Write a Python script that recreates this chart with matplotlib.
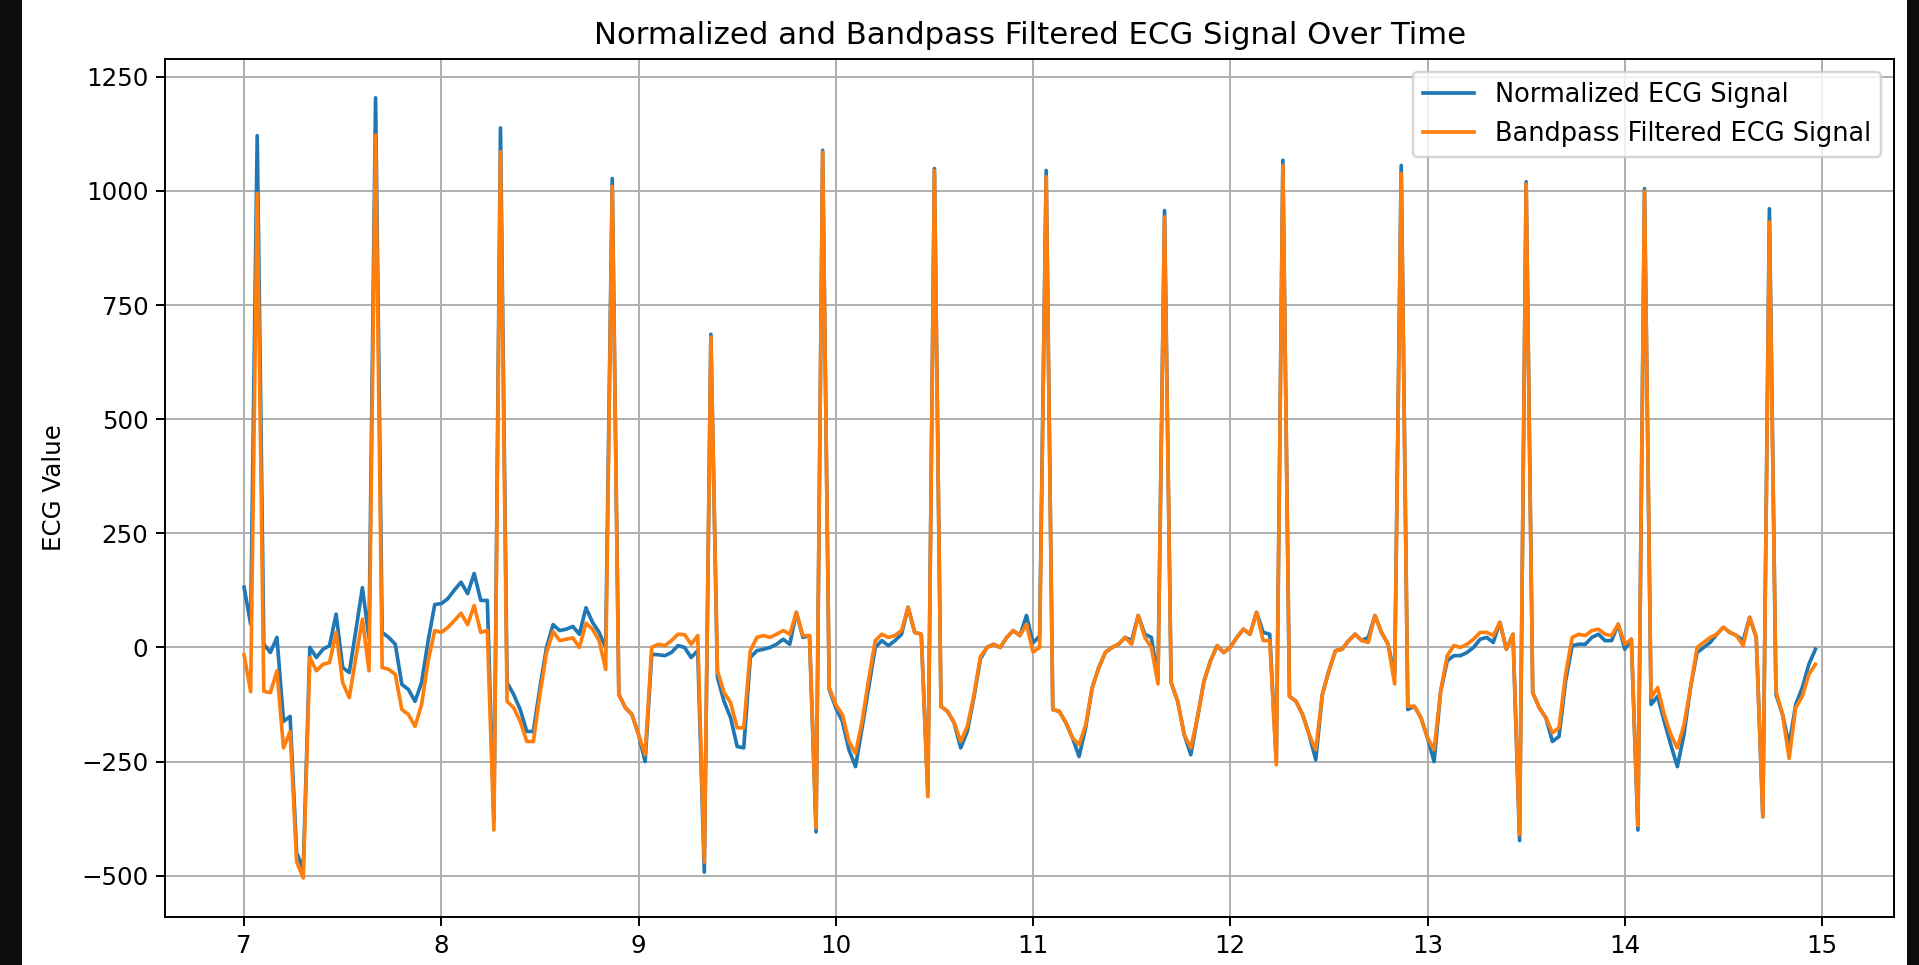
import matplotlib
matplotlib.use("Agg")
import matplotlib.pyplot as plt
import numpy as np
from matplotlib.patches import Rectangle

# sampling of the shown window
fs = 30
t_start = 7.0

normalized = [
    132, 51, 1121, 7, -11, 22, -162, -151, -450, -485,
    0, -22, -4, 4, 73, -44, -55, 37, 131, 20,
    1204, 33, 22, 7, -81, -92, -118, -77, 15, 94,
    96, 107, 126, 143, 118, 162, 103, 103, -380, 1138,
    -77, -103, -136, -184, -184, -88, 0, 50, 37, 40,
    46, 29, 87, 55, 33, 0, 1027, -103, -132, -147,
    -191, -250, -15, -16, -18, -11, 4, 0, -22, -7,
    -492, 686, -66, -118, -154, -217, -220, -22, -7, -4,
    0, 7, 18, 7, 77, 22, 26, -404, 1089, -92,
    -132, -162, -224, -261, -176, -88, 0, 15, 4, 15,
    29, 88, 33, 29, -320, 1049, -129, -140, -165, -220,
    -184, -110, -25, 0, 7, 0, 22, 37, 26, 70,
    10, 25, 1045, -136, -140, -165, -198, -239, -176, -88,
    -44, -11, 0, 7, 22, 15, 70, 29, 22, -70,
    957, -77, -118, -191, -235, -154, -74, -29, 4, -11,
    0, 22, 40, 29, 77, 33, 29, -250, 1067, -107,
    -118, -147, -191, -246, -103, -51, -7, -4, 15, 29,
    15, 22, 70, 33, 7, -60, 1056, -136, -129, -154,
    -198, -250, -96, -29, -18, -18, -11, 0, 18, 22,
    11, 55, -4, 29, -423, 1020, -99, -132, -154, -206,
    -195, -74, 4, 7, 7, 22, 29, 15, 15, 51,
    -4, 18, -400, 1005, -125, -107, -162, -213, -261, -191,
    -88, -11, 0, 11, 29, 44, 33, 26, 15, 66,
    22, -371, 961, -103, -147, -213, -125, -88, -37, -4,
]

filtered = [
    -16, -97, 994, -96, -99, -51, -220, -184, -470, -505,
    -22, -51, -37, -33, 33, -77, -110, -22, 62, -51,
    1122, -44, -48, -59, -136, -147, -173, -125, -29, 37,
    33, 44, 59, 75, 50, 92, 33, 37, -400, 1086,
    -118, -132, -162, -206, -206, -103, -11, 35, 15, 18,
    21, 0, 53, 40, 15, -48, 1010, -103, -132, -147,
    -191, -235, 0, 7, 4, 15, 29, 28, 7, 26,
    -470, 680, -51, -99, -121, -176, -176, -7, 22, 26,
    22, 29, 37, 29, 77, 26, 26, -395, 1085, -88,
    -125, -147, -206, -232, -162, -70, 15, 29, 22, 26,
    37, 88, 33, 29, -327, 1045, -129, -140, -165, -206,
    -173, -105, -20, 0, 7, 0, 22, 37, 26, 51,
    -10, 0, 1031, -136, -140, -165, -198, -213, -170, -88,
    -44, -11, 0, 7, 22, 7, 70, 22, 0, -80,
    943, -77, -118, -191, -220, -154, -74, -29, 4, -11,
    0, 22, 40, 29, 77, 15, 15, -257, 1056, -107,
    -118, -147, -191, -224, -103, -51, -7, -4, 15, 29,
    15, 11, 70, 33, 7, -80, 1038, -129, -129, -154,
    -198, -224, -96, -18, 4, 0, 7, 18, 33, 33,
    26, 55, -4, 29, -410, 1015, -99, -132, -154, -187,
    -176, -59, 22, 29, 26, 37, 40, 29, 26, 51,
    7, 18, -390, 1000, -110, -88, -147, -191, -220, -170,
    -88, 0, 11, 22, 29, 44, 33, 26, 4, 66,
    22, -371, 932, -96, -147, -243, -132, -107, -59, -37,
]

time = t_start + np.arange(len(normalized)) / fs

dpi = 176
fig = plt.figure(figsize=(1920 / dpi, 965 / dpi), dpi=dpi)

# dark side strips of the screenshot
fig.patches.append(Rectangle((0, 0), 22 / 1920, 1, transform=fig.transFigure,
                             facecolor="#0d0d0d", edgecolor="none", zorder=-1))
fig.patches.append(Rectangle((1907 / 1920, 0), 13 / 1920, 1, transform=fig.transFigure,
                             facecolor="#0d0d0d", edgecolor="none", zorder=-1))

ax = fig.add_axes([165.5 / 1920, 48 / 965, (1894 - 165.5) / 1920, (917 - 58.8) / 965])
ax.plot(time, normalized, label="Normalized ECG Signal")
ax.plot(time, filtered, label="Bandpass Filtered ECG Signal")
ax.set_title("Normalized and Bandpass Filtered ECG Signal Over Time", fontsize=12.6)
ax.set_ylabel("ECG Value", labelpad=6)
ax.legend(loc="upper right", fontsize=10.5)
ax.grid(True)

fig.savefig("out.png", dpi=dpi)
